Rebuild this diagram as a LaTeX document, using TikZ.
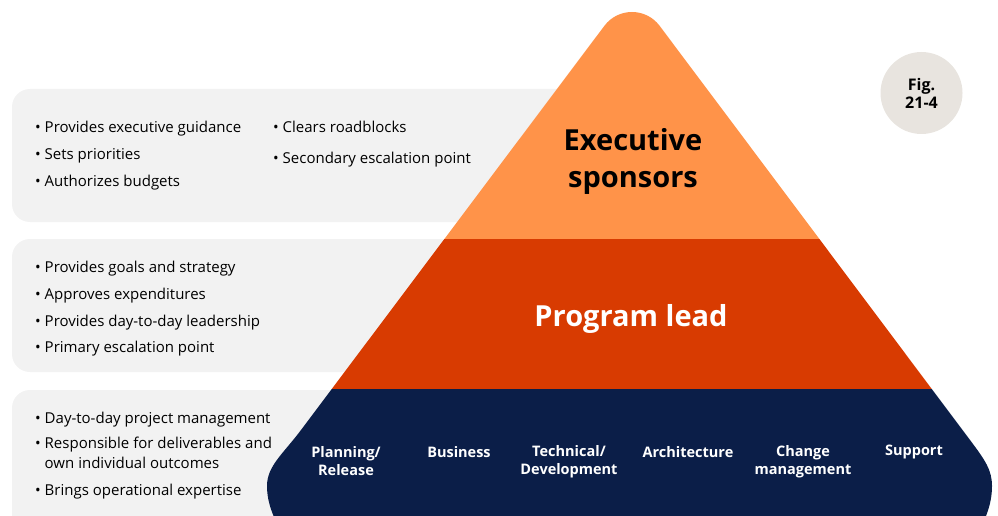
\documentclass[tikz,border=0pt]{standalone}
\usepackage{fontspec}
\setmainfont{Open Sans}
\usetikzlibrary{positioning}
\definecolor{execorange}{HTML}{FF9349}
\definecolor{leadred}{HTML}{D83B01}
\definecolor{teamnavy}{HTML}{0B1E48}
\definecolor{panelgray}{HTML}{F2F2F2}
\definecolor{badgegray}{HTML}{E8E4DF}

\begin{document}
\begin{tikzpicture}[x=1pt,y=-1pt,
  panel/.style={fill=panelgray,rounded corners=18pt},
  item/.style={anchor=base west,inner sep=0pt,font=\fontsize{15}{17}\selectfont},
  tier/.style={align=center,inner sep=0pt},
  role/.style={align=center,inner sep=0pt,text=white,font=\fontsize{14.5}{18}\selectfont\bfseries},
]
\useasboundingbox (0,0) rectangle (998,516);
\clip (0,0) rectangle (998,516);

% Grey panels behind the pyramid
\fill[panel] (12,89) rectangle (660,222);
\fill[panel] (12,239) rectangle (660,372);
\fill[panel] (12,390) rectangle (660,560);

% Pyramid, three bands clipped to one outline
\begin{scope}
  \clip (604.4,25.8) .. controls (618.2,7.4) and (645.8,7.4) .. (659.6,25.8)
    -- (970,440) .. controls (985,460) and (992,470) .. (992,486)
    .. controls (992,505) and (985,520) .. (975,540)
    -- (285,540) .. controls (275,520) and (267,505) .. (267,486)
    .. controls (267,466) and (283,454) .. (301,430) -- cycle;
  \fill[teamnavy] (0,389) rectangle (998,560);
  \fill[leadred] (0,239) rectangle (998,389);
  \fill[execorange] (0,-20) rectangle (998,239);
\end{scope}

% Tier titles
\node[tier,font=\fontsize{29}{37}\selectfont\bfseries] (exec) at (633,161.5) {Executive\\sponsors};
\node[tier,text=white,font=\fontsize{29}{37}\selectfont\bfseries] (lead) at (631,319) {Program lead};

% Team roles
\node[role] (plan) at (346,461.5) {Planning/\\Release};
\node[role] (biz) at (459,452) {Business};
\node[role] (tech) at (569,461.5) {Technical/\\Development};
\node[role] (arch) at (688,452) {Architecture};
\node[role] (chg) at (803,461.5) {Change\\management};
\node[role] (sup) at (914,452) {Support};

% Executive sponsor duties
\node[item] (e1) at (35,132) {• Provides executive guidance};
\node[item] (e2) at (35,159) {• Sets priorities};
\node[item] (e3) at (35,186) {• Authorizes budgets};
\node[item] (e4) at (273,132) {• Clears roadblocks};
\node[item] (e5) at (273,164) {• Secondary escalation point};

% Program lead duties
\node[item] (l1) at (35,272) {• Provides goals and strategy};
\node[item] (l2) at (35,299) {• Approves expenditures};
\node[item] (l3) at (35,326) {• Provides day-to-day leadership};
\node[item] (l4) at (35,352) {• Primary escalation point};

% Team duties
\node[item] (t1) at (35,423) {• Day-to-day project management};
\node[item] (t2) at (35,448) {• Responsible for deliverables and};
\node[item] (t3) at (35,468) {\phantom{• }own individual outcomes};
\node[item] (t4) at (35,495) {• Brings operational expertise};

% Figure badge
\node[circle,fill=badgegray,minimum size=82pt,inner sep=0pt,align=center,
  font=\fontsize{16}{18}\selectfont\bfseries] (fig) at (921.5,93) {Fig.\\21-4};
\end{tikzpicture}
\end{document}
